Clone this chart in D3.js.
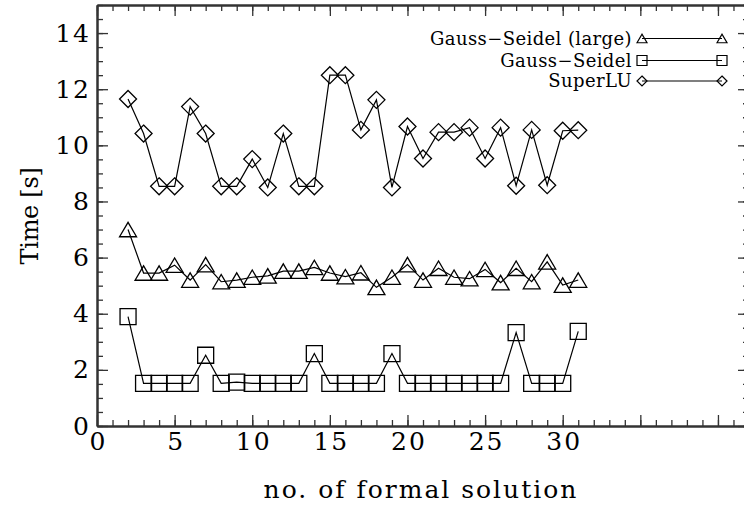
<!DOCTYPE html>
<html>
<head>
<meta charset="utf-8">
<script src="https://cdn.jsdelivr.net/npm/d3@7"></script>
<style>
  html, body { margin: 0; padding: 0; background: #fff; }
  svg { display: block; }
  text { font-family: "DejaVu Serif", "Liberation Serif", serif; fill: #000; }
</style>
</head>
<body>
<svg id="chart" width="744" height="506"></svg>
<script>
// Formal solution index
const solutions = [2, 3, 4, 5, 6, 7, 8, 9, 10, 11, 12, 13, 14, 15, 16,
                   17, 18, 19, 20, 21, 22, 23, 24, 25, 26, 27, 28, 29, 30, 31];

// Timings in seconds
const superLU = [11.65, 10.42, 8.54, 8.54, 11.38, 10.42, 8.54, 8.54, 9.51, 8.5,
                 10.42, 8.54, 8.54, 12.5, 12.5, 10.55, 11.62, 8.5, 10.67, 9.53,
                 10.47, 10.47, 10.63, 9.53, 10.63, 8.56, 10.55, 8.58, 10.52, 10.54];
const gaussSeidelLarge = [7.0, 5.45, 5.45, 5.73, 5.2, 5.75, 5.14, 5.2, 5.3, 5.35,
                          5.52, 5.52, 5.65, 5.45, 5.32, 5.46, 4.94, 5.3, 5.75, 5.2,
                          5.62, 5.3, 5.25, 5.58, 5.11, 5.62, 5.14, 5.85, 5.02, 5.2];
const gaussSeidel = [3.9, 1.52, 1.52, 1.52, 1.52, 2.52, 1.52, 1.56, 1.52, 1.52,
                     1.52, 1.52, 2.58, 1.52, 1.52, 1.52, 1.52, 2.58, 1.52, 1.52,
                     1.52, 1.52, 1.52, 1.52, 1.52, 3.33, 1.52, 1.52, 1.52, 3.37];

const seriesNames = ["Gauss\u2212Seidel (large)", "Gauss\u2212Seidel", "SuperLU"];
const xTickLabels = ["0", "5", "10", "15", "20", "25", "30"];
const yTickLabels = ["0", "2", "4", "6", "8", "10", "12", "14"];

const svg = d3.select("#chart");
const x = d3.scaleLinear().domain([0, 42]).range([97, 749]);
const y = d3.scaleLinear().domain([0, 15]).range([426, 5]);

const axisColor = "#333";
const majorLen = 11, minorLen = 6;
const labelSize = 25, labelSpacing = 2;

// Minor ticks (no labels)
function minorTicks(axis, values) {
  return axis.tickValues(values).tickFormat("").tickSizeInner(-minorLen).tickSizeOuter(0);
}
const xMinor = d3.range(0, 43, 1);
const yMinor = d3.range(0, 15.01, 0.5);
const xMajor = xTickLabels.map(Number).concat([35, 40]);
const yMajor = yTickLabels.map(Number);

const gAxes = svg.append("g");

gAxes.append("g").attr("transform", `translate(0,${y(0)})`)
  .call(minorTicks(d3.axisBottom(x), xMinor));
gAxes.append("g").attr("transform", `translate(0,${y(0)})`)
  .call(d3.axisBottom(x).tickValues(xMajor)
    .tickFormat(d => xTickLabels.includes(String(d)) ? String(d) : "")
    .tickSizeInner(-majorLen).tickSizeOuter(0).tickPadding(6))
  .call(g => g.selectAll("text").attr("font-size", labelSize)
    .attr("letter-spacing", labelSpacing).attr("dx", labelSpacing / 2));

gAxes.append("g").attr("transform", `translate(0,${y(15)})`)
  .call(minorTicks(d3.axisTop(x), xMinor));
gAxes.append("g").attr("transform", `translate(0,${y(15)})`)
  .call(d3.axisTop(x).tickValues(xMajor).tickFormat("").tickSizeInner(-majorLen).tickSizeOuter(0));

gAxes.append("g").attr("transform", `translate(${x(0)},0)`)
  .call(minorTicks(d3.axisLeft(y), yMinor));
gAxes.append("g").attr("transform", `translate(${x(0)},0)`)
  .call(d3.axisLeft(y).tickValues(yMajor).tickFormat(d => String(d))
    .tickSizeInner(-majorLen).tickSizeOuter(0).tickPadding(8))
  .call(g => g.selectAll("text").attr("font-size", labelSize)
    .attr("letter-spacing", labelSpacing).attr("dx", labelSpacing));

gAxes.append("g").attr("transform", `translate(${x(42)},0)`)
  .call(minorTicks(d3.axisRight(y), yMinor));
gAxes.append("g").attr("transform", `translate(${x(42)},0)`)
  .call(d3.axisRight(y).tickValues(yMajor).tickFormat("").tickSizeInner(-majorLen).tickSizeOuter(0));

gAxes.selectAll(".domain").attr("stroke", axisColor).attr("stroke-width", 2);
gAxes.selectAll(".tick line").attr("stroke", axisColor).attr("stroke-width", 1.3);
gAxes.selectAll("text").attr("font-family", "DejaVu Serif").attr("fill", "#000");

// Axis titles
svg.append("text")
  .attr("x", 421).attr("y", 498)
  .attr("text-anchor", "middle").attr("font-size", labelSize).attr("letter-spacing", 2)
  .text("no. of formal solution");
svg.append("text")
  .attr("transform", "translate(38,216) rotate(-90)")
  .attr("text-anchor", "middle").attr("font-size", 24).attr("letter-spacing", -0.3)
  .text("Time [s]");

// Marker shapes, centred on the data point
function markerPath(kind, r) {
  if (kind === "triangle") return `M${-r},${r * 0.85}L0,${-r * 0.85}L${r},${r * 0.85}Z`;
  if (kind === "square") return `M${-r},${-r}H${r}V${r}H${-r}Z`;
  return `M0,${-r}L${r},0L0,${r}L${-r},0Z`;
}

const series = [
  { name: seriesNames[0], values: gaussSeidelLarge, kind: "triangle", r: 8.5 },
  { name: seriesNames[1], values: gaussSeidel, kind: "square", r: 8 },
  { name: seriesNames[2], values: superLU, kind: "diamond", r: 8.5 }
];

const line = d3.line().x(d => x(d[0])).y(d => y(d[1]));
const plot = svg.append("g");
series.forEach(s => {
  const pts = solutions.map((n, i) => [n, s.values[i]]);
  plot.append("path").attr("d", line(pts))
    .attr("fill", "none").attr("stroke", "#000").attr("stroke-width", 1.2);
  plot.selectAll(null).data(pts).enter().append("path")
    .attr("transform", d => `translate(${x(d[0])},${y(d[1])})`)
    .attr("d", markerPath(s.kind, s.r))
    .attr("fill", "none").attr("stroke", "#000").attr("stroke-width", 1.3);
});

// Legend
const legend = svg.append("g");
const legendRows = [38.5, 60.5, 81];
series.forEach((s, i) => {
  const yy = legendRows[i];
  const g = legend.append("g");
  g.append("text").attr("x", 632).attr("y", yy).attr("dy", "0.36em")
    .attr("text-anchor", "end").attr("font-size", 18).attr("letter-spacing", 0.4)
    .text(s.name);
  g.append("line").attr("x1", 642).attr("x2", 722).attr("y1", yy).attr("y2", yy)
    .attr("stroke", "#000").attr("stroke-width", 1.2);
  [642, 722].forEach(xx => {
    g.append("path").attr("transform", `translate(${xx},${yy})`)
      .attr("d", markerPath(s.kind, 5))
      .attr("fill", "none").attr("stroke", "#000").attr("stroke-width", 1.2);
  });
});
</script>
</body>
</html>
